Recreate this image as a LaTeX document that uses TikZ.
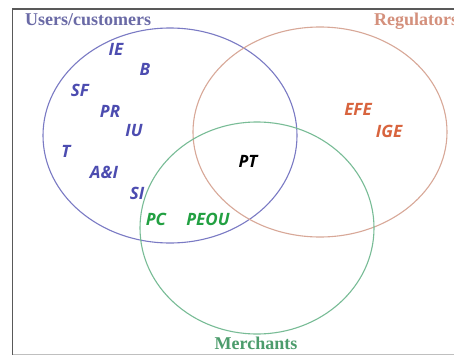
\documentclass[tikz,border=0pt]{standalone}
\usepackage{fontspec}
\setmainfont{Liberation Serif}
\newfontfamily\lblfont{Open Sans}
\definecolor{bluelbl}{HTML}{4C4CB0}
\definecolor{bluetitle}{HTML}{6A6AA6}
\definecolor{blueline}{HTML}{7A7AC4}
\definecolor{orangeline}{HTML}{D8A898}
\definecolor{orangelbl}{HTML}{D8643E}
\definecolor{orangetitle}{HTML}{D4907C}
\definecolor{greenline}{HTML}{78BC96}
\definecolor{greenlbl}{HTML}{22A042}
\definecolor{greentitle}{HTML}{4C9C6C}
\tikzset{
  lbl/.style={inner sep=0pt, font=\lblfont\fontsize{17}{17}\selectfont\bfseries\itshape},
  title/.style={inner sep=0pt, font=\fontsize{18}{18}\selectfont\bfseries},
  venn/.style={line width=1.1pt}
}
\begin{document}
\begin{tikzpicture}[x=1pt,y=-1pt]
\useasboundingbox (0,0) rectangle (454,356);
\fill[white] (0,0) rectangle (454,356);
% frame
\draw[line width=0.8pt, black!25] (12.5,354) -- (460,354);
\draw[line width=1.5pt, black!65] (460,9) -- (12.5,9) -- (12.5,355);
% ellipses
\draw[venn, blueline] (170,135.5) ellipse [x radius=127pt, y radius=107.5pt];
\draw[venn, orangeline] (320,132) ellipse [x radius=127pt, y radius=105pt];
\draw[venn, greenline] (257,228) ellipse [x radius=117pt, y radius=106pt];
% titles
\node[title, bluetitle, anchor=west] (users) at (25,20) {Users/customers};
\node[title, orangetitle, anchor=west] (regulators) at (374,21) {Regulators};
\node[title, greentitle] (merchants) at (256,343) {Merchants};
% labels
\node[lbl, bluelbl] (ie) at (116,49) {IE};
\node[lbl, bluelbl] (b) at (145,69) {B};
\node[lbl, bluelbl] (sf) at (80,90) {SF};
\node[lbl, bluelbl] (pr) at (110,111) {PR};
\node[lbl, bluelbl] (iu) at (134,131) {IU};
\node[lbl, bluelbl] (t) at (66,151) {T};
\node[lbl, bluelbl] (ai) at (104,172) {A\&I};
\node[lbl, bluelbl] (si) at (137,193) {SI};
\node[lbl, greenlbl] (pc) at (156,219) {PC};
\node[lbl, greenlbl] (peou) at (208,219) {PEOU};
\node[lbl, black] (pt) at (248,161) {PT};
\node[lbl, orangelbl] (efe) at (358,109) {EFE};
\node[lbl, orangelbl] (ige) at (389,131) {IGE};
\end{tikzpicture}
\end{document}
